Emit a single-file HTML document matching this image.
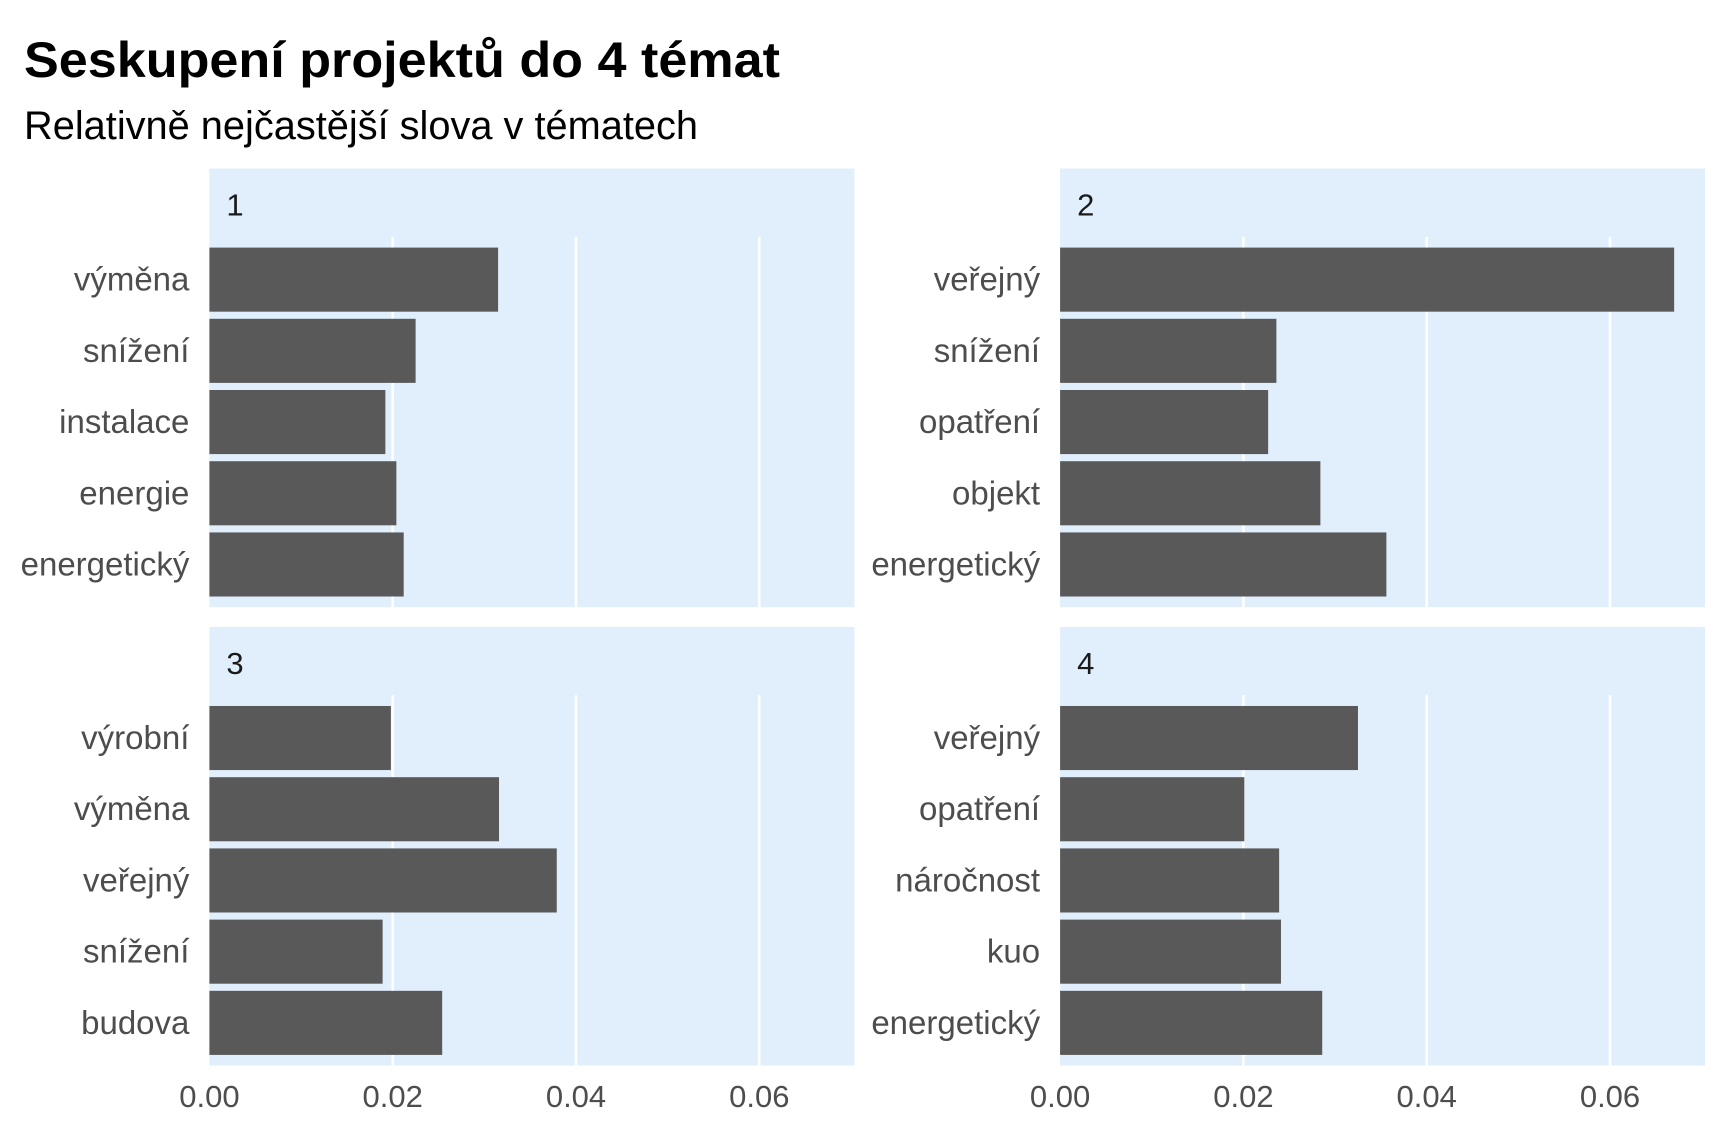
<!DOCTYPE html>
<html><head><meta charset="utf-8"><style>body{margin:0;background:#fff}svg{display:block}</style></head>
<body>
<svg id="chart" width="1728" height="1140" viewBox="0 0 1728 1140" xmlns="http://www.w3.org/2000/svg" font-family="'Liberation Sans', sans-serif">
<text x="24" y="77" font-size="50" font-weight="bold" fill="#000" textLength="756" lengthAdjust="spacingAndGlyphs">Seskupení projektů do 4 témat</text>
<text x="24" y="139" font-size="40" fill="#000" textLength="674" lengthAdjust="spacingAndGlyphs">Relativně nejčastější slova v tématech</text>
<g id="panels"></g>
</svg>
<script>
const topics = ["1","2","3","4"];
const words1 = ["výměna","snížení","instalace","energie","energetický"];
const values1 = [0.0315,0.0225,0.0192,0.0204,0.0212];
const words2 = ["veřejný","snížení","opatření","objekt","energetický"];
const values2 = [0.0670,0.0236,0.0227,0.0284,0.0356];
const words3 = ["výrobní","výměna","veřejný","snížení","budova"];
const values3 = [0.0198,0.0316,0.0379,0.0189,0.0254];
const words4 = ["veřejný","opatření","náročnost","kuo","energetický"];
const values4 = [0.0325,0.0201,0.0239,0.0241,0.0286];
const xTicks = [0,0.02,0.04,0.06];
const xTickLabels = ["0.00","0.02","0.04","0.06"];

const NS="http://www.w3.org/2000/svg";
const g=document.getElementById('panels');
function mk(tag,attrs,parent){const e=document.createElementNS(NS,tag);for(const k in attrs)e.setAttribute(k,attrs[k]);(parent||g).appendChild(e);return e;}
const panelW=645, pxPer=(759.3-209.4)/0.06;
const layout=[{x:209.4,y:168.6},{x:1060.1,y:168.6},{x:209.4,y:627},{x:1060.1,y:627}];
const allWords=[words1,words2,words3,words4], allVals=[values1,values2,values3,values4];
topics.forEach((t,i)=>{
  const L=layout[i];
  const px0=L.x, pTop=L.y, pBot=L.y+438.6, plotTop=L.y+68.3;
  const xs=v=>px0+v*pxPer;
  const step=(pBot-plotTop)/5.2;
  const ys=j=>plotTop+step*(0.15+j);
  const bg=mk('rect',{x:px0,y:pTop,width:panelW,height:pBot-pTop,fill:'#e1effd'});
  
  
  const st=mk('text',{x:px0+17,y:pTop+47,'font-size':31,fill:'#1a1a1a'});
  st.textContent=t;
  
  
  xTicks.forEach((v,k)=>{
    if(v>0){const gl=mk('line',{x1:xs(v),x2:xs(v),y1:plotTop,y2:pBot,stroke:'#fff','stroke-width':2.5});
    
    }
    if(i>=2){const tl=mk('text',{x:xs(v),y:1107,'font-size':31,fill:'#4d4d4d','text-anchor':'middle'});
    tl.textContent=xTickLabels[k];
    
    }
  });
  allWords[i].forEach((w,j)=>{
    const y=ys(j);
    const b=mk('rect',{x:px0,y:y,width:xs(allVals[i][j])-px0,height:step*0.9,fill:'#595959'});
    
    
    const lb=mk('text',{x:px0-20,y:y+step*0.45+11,'font-size':33,fill:'#4d4d4d','text-anchor':'end'});
    lb.textContent=w;
    
    
  });
});
</script>
</body></html>
